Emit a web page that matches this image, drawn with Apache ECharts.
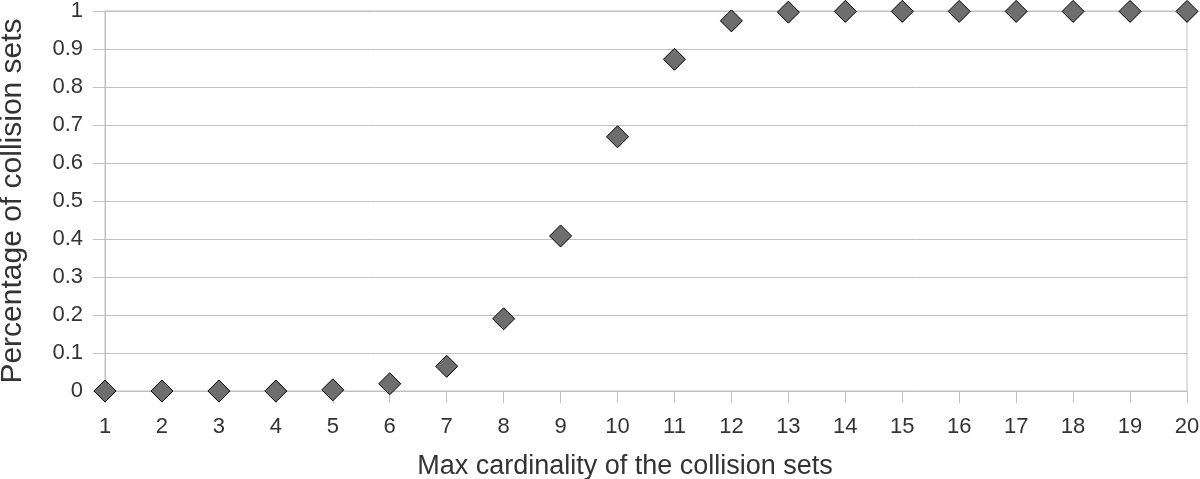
<!DOCTYPE html>
<html>
<head>
<meta charset="utf-8">
<script src="https://cdn.jsdelivr.net/npm/echarts@6/dist/echarts.min.js"></script>
<style>html,body{margin:0;padding:0;background:#fff}#c{width:1200px;height:479px}</style>
</head>
<body>
<div id="c"></div>
<script>
var categories = ['1','2','3','4','5','6','7','8','9','10','11','12','13','14','15','16','17','18','19','20'];
var values = [0, 0, 0, 0, 0.003, 0.019, 0.065, 0.19, 0.408, 0.669, 0.873, 0.974, 0.997, 0.999, 0.999, 0.999, 0.999, 0.999, 0.999, 0.999];
var xTitle = 'Max cardinality of the collision sets';
var yTitle = 'Percentage of collision sets';

var chart = echarts.init(document.getElementById('c'));
var font = 'Liberation Sans, Arial, sans-serif';
var gridColor = '#c0c0c0';
chart.setOption({
  animation: false,
  grid: {left: 105, right: 13, top: 11, bottom: 88, show: true, borderColor: gridColor, borderWidth: 1, containLabel: false, outerBoundsMode: 'none'},
  xAxis: {
    type: 'category', data: categories, boundaryGap: false,
    name: xTitle, nameLocation: 'middle', nameGap: 62,
    nameTextStyle: {fontFamily: font, fontSize: 27, color: '#333', padding: [0, 42, 0, 0]},
    axisLine: {lineStyle: {color: gridColor, width: 1}},
    axisTick: {show: true, length: 12, inside: false, lineStyle: {color: gridColor}, alignWithLabel: true},
    axisLabel: {fontFamily: font, fontSize: 22, color: '#333', margin: 25, interval: 0},
    splitLine: {show: false}
  },
  yAxis: {
    type: 'value', min: 0, max: 1, interval: 0.1,
    name: yTitle, nameLocation: 'middle', nameGap: 77,
    nameTextStyle: {fontFamily: font, fontSize: 30, color: '#333'},
    axisLine: {show: true, lineStyle: {color: gridColor, width: 1}},
    axisTick: {show: true, length: 12, lineStyle: {color: gridColor}},
    axisLabel: {fontFamily: font, fontSize: 22, color: '#333', margin: 22,
      formatter: function (v) { return String(Math.round(v * 10) / 10); }},
    splitLine: {show: true, lineStyle: {color: gridColor, width: 1}}
  },
  series: [{
    type: 'scatter', data: values, symbol: 'diamond', symbolSize: 22,
    itemStyle: {color: '#6e6e6e', borderColor: '#000', borderWidth: 1, opacity: 1},
    clip: false
  }]
});
</script>
</body>
</html>
